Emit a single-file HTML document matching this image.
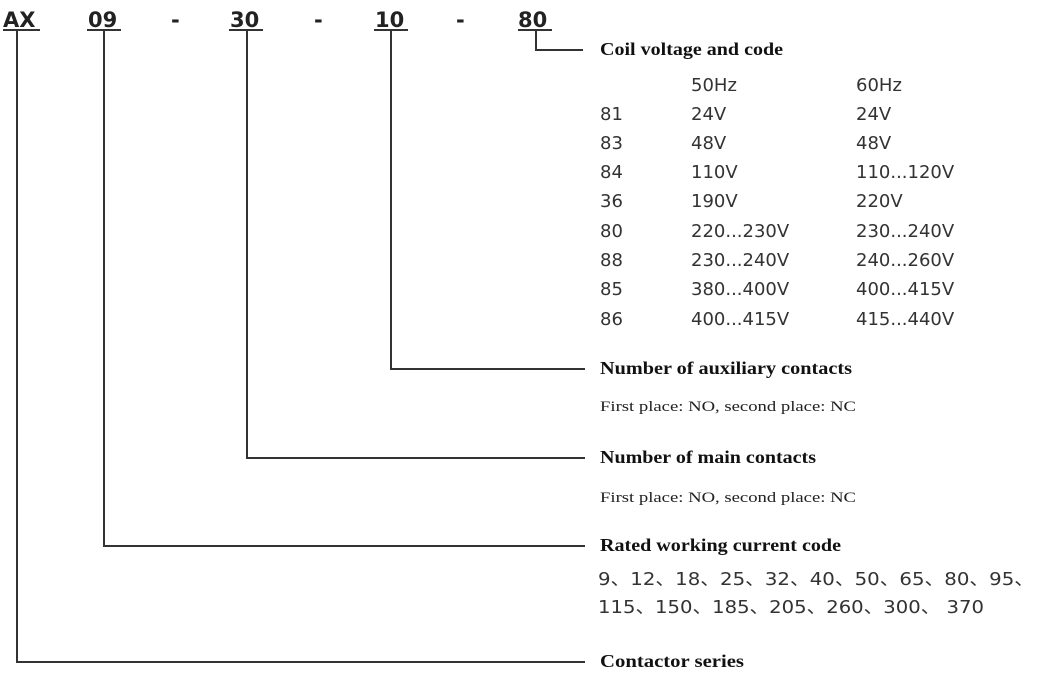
<!DOCTYPE html>
<html><head><meta charset="utf-8"><style>
html,body{margin:0;padding:0;background:#fff;}
svg{display:block;}
.s{font-family:"DejaVu Sans","Noto Sans CJK SC",sans-serif;font-size:18px;fill:#333;}
.h{font-family:"DejaVu Sans",sans-serif;font-size:21px;font-weight:bold;fill:#222;}
.b{font-family:"Liberation Serif",serif;font-size:18px;font-weight:bold;fill:#111;}
.n{font-family:"Liberation Serif",serif;font-size:15px;fill:#222;}
</style></head><body>
<svg width="1050" height="680" viewBox="0 0 1050 680">
<g class="h">
<text x="3" y="27">AX</text><text x="88" y="27">09</text><text x="171" y="27">-</text>
<text x="230" y="27">30</text><text x="314" y="27">-</text><text x="375" y="27">10</text>
<text x="456" y="27">-</text><text x="518" y="27">80</text>
</g>
<g stroke="#333" stroke-width="2" fill="none">
<line x1="3" y1="30" x2="40" y2="30"/><line x1="87" y1="30" x2="121" y2="30"/>
<line x1="229" y1="30" x2="263" y2="30"/><line x1="374" y1="30" x2="408" y2="30"/>
<line x1="518" y1="30" x2="552" y2="30"/>
<polyline points="536,30 536,50 583,50"/>
<polyline points="391,30 391,369 585,369"/>
<polyline points="247,30 247,458 585,458"/>
<polyline points="104,30 104,546 585,546"/>
<polyline points="17,30 17,662 585,662"/>
</g>
<g class="b">
<text x="600" y="55" textLength="183" lengthAdjust="spacingAndGlyphs">Coil voltage and code</text>
<text x="600" y="374" textLength="252" lengthAdjust="spacingAndGlyphs">Number of auxiliary contacts</text>
<text x="600" y="463" textLength="216" lengthAdjust="spacingAndGlyphs">Number of main contacts</text>
<text x="600" y="551" textLength="241" lengthAdjust="spacingAndGlyphs">Rated working current code</text>
<text x="600" y="667" textLength="144" lengthAdjust="spacingAndGlyphs">Contactor series</text>
</g>
<g class="n">
<text x="600" y="411" textLength="256" lengthAdjust="spacingAndGlyphs">First place: NO, second place: NC</text>
<text x="600" y="502" textLength="256" lengthAdjust="spacingAndGlyphs">First place: NO, second place: NC</text>
</g>
<g class="s">
<text x="691" y="91">50Hz</text><text x="856" y="91">60Hz</text>
<text x="600" y="120">81</text><text x="691" y="120">24V</text><text x="856" y="120">24V</text>
<text x="600" y="149">83</text><text x="691" y="149">48V</text><text x="856" y="149">48V</text>
<text x="600" y="178">84</text><text x="691" y="178">110V</text><text x="856" y="178">110...120V</text>
<text x="600" y="207">36</text><text x="691" y="207">190V</text><text x="856" y="207">220V</text>
<text x="600" y="237">80</text><text x="691" y="237">220...230V</text><text x="856" y="237">230...240V</text>
<text x="600" y="266">88</text><text x="691" y="266">230...240V</text><text x="856" y="266">240...260V</text>
<text x="600" y="295">85</text><text x="691" y="295">380...400V</text><text x="856" y="295">400...415V</text>
<text x="600" y="325">86</text><text x="691" y="325">400...415V</text><text x="856" y="325">415...440V</text>
<text x="598" y="585" textLength="436" lengthAdjust="spacingAndGlyphs">9、12、18、25、32、40、50、65、80、95、</text>
<text x="598" y="613" textLength="386" lengthAdjust="spacingAndGlyphs">115、150、185、205、260、300、 370</text>
</g>
</svg>
</body></html>
